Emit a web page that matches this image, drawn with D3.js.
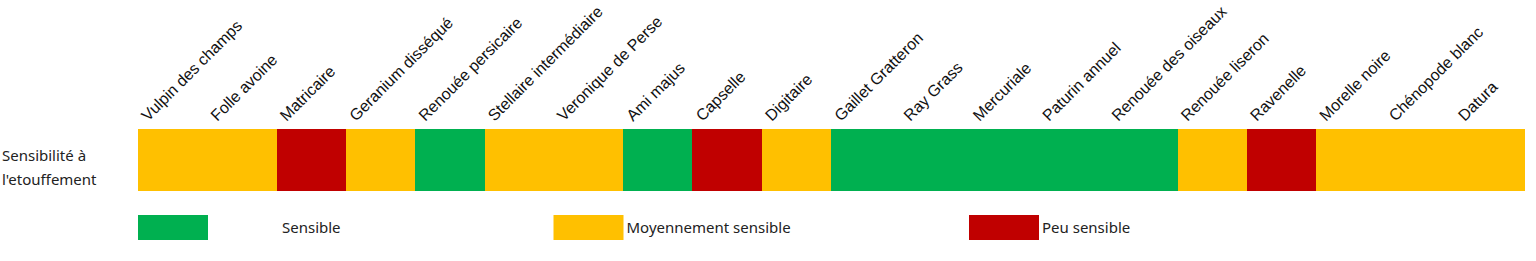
<!DOCTYPE html>
<html lang="fr">
<head>
<meta charset="UTF-8">
<title>Sensibilité à l'étouffement</title>
<script src="https://d3js.org/d3.v7.min.js" charset="utf-8"></script>
<style>
    body { margin: 0; background: #fff; }
    .species { font-family: "Liberation Sans", Arial, sans-serif; font-size: 16px; fill: #111; }
    .label { font-family: "Noto Sans", "Open Sans", sans-serif; font-size: 15px; fill: #222; }
</style>
</head>
<body>
<script>
// adventices et leur sensibilité
var species = ["Vulpin des champs", "Folle avoine", "Matricaire", "Geranium disséqué",
    "Renouée persicaire", "Stellaire intermédiaire", "Veronique de Perse", "Ami majus",
    "Capselle", "Digitaire", "Gaillet Gratteron", "Ray Grass", "Mercuriale",
    "Paturin annuel", "Renouée des oiseaux", "Renouée liseron", "Ravenelle",
    "Morelle noire", "Chénopode blanc", "Datura"];
var sensitivity = ["Moyennement sensible", "Moyennement sensible", "Peu sensible",
    "Moyennement sensible", "Sensible", "Moyennement sensible", "Moyennement sensible",
    "Sensible", "Peu sensible", "Moyennement sensible", "Sensible", "Sensible", "Sensible",
    "Sensible", "Sensible", "Moyennement sensible", "Peu sensible",
    "Moyennement sensible", "Moyennement sensible", "Moyennement sensible"];
var levels = ["Sensible", "Moyennement sensible", "Peu sensible"];
var levelColors = ["#00B050", "#FFC000", "#C00000"];
var rowLabel = ["Sensibilité à", "l'etouffement"];

var width = 1536, height = 261;

var svg = d3.select("body").append("svg")
    .attr("width", width)
    .attr("height", height);

var x = d3.scaleBand().domain(species).range([138, 1524]);
var color = d3.scaleOrdinal().domain(levels).range(levelColors);

// cellules
svg.append("g")
    .attr("shape-rendering", "crispEdges")
    .selectAll("rect")
    .data(species)
    .enter()
    .append("rect")
    .attr("x", function (d) { return x(d); })
    .attr("y", 129)
    .attr("width", x.bandwidth() + 0.6)
    .attr("height", 62)
    .attr("fill", function (d, i) { return color(sensitivity[i]); });

// noms en diagonale
svg.append("g").selectAll("text")
    .data(species)
    .enter()
    .append("text")
    .attr("class", "species")
    .attr("transform", function (d) {
        return "translate(" + (x(d) + 10) + ",122) rotate(-45)";
    })
    .text(function (d) { return d; });

// libellé de ligne
svg.append("g").selectAll("text")
    .data(rowLabel)
    .enter()
    .append("text")
    .attr("class", "label")
    .attr("x", 2)
    .attr("y", function (d, i) { return 161 + i * 24; })
    .text(function (d) { return d; });

// légende
var lx = d3.scalePoint().domain(levels).range([138, 969]);
var textOffset = [144, 73, 73];

var legend = svg.append("g").selectAll("g")
    .data(levels)
    .enter()
    .append("g")
    .attr("transform", function (d) { return "translate(" + lx(d) + ",215)"; });

legend.append("rect")
    .attr("width", 70)
    .attr("height", 25)
    .attr("fill", function (d) { return color(d); });

legend.append("text")
    .attr("class", "label")
    .attr("x", function (d, i) { return textOffset[i]; })
    .attr("y", 18)
    .text(function (d) { return d; });
</script>
</body>
</html>
